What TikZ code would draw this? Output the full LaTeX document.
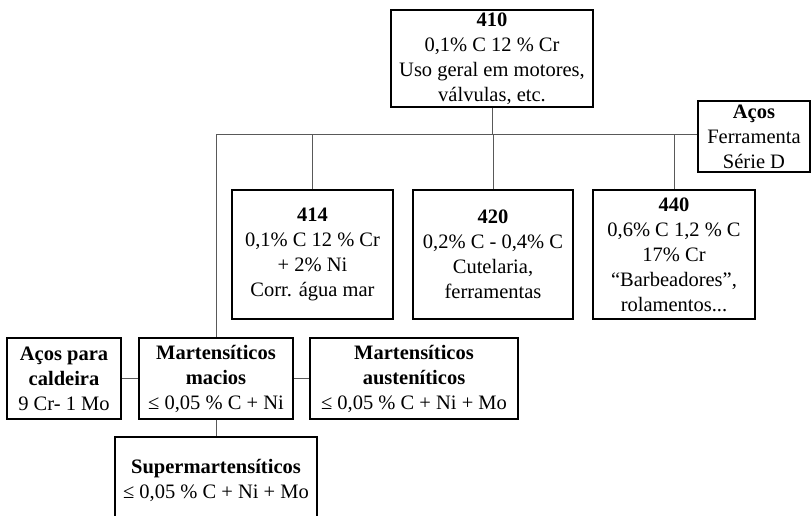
\documentclass[tikz,border=0pt]{standalone}
\usepackage{fontspec}
\setmainfont{Liberation Serif}
\begin{document}
\begin{tikzpicture}[x=1pt,y=-1pt,
  box/.style={draw=black, line width=1.8pt, rectangle, inner sep=0pt, align=center,
              font=\fontsize{20.5}{25}\selectfont},
  conn/.style={draw=black!65, line width=1pt}]
\useasboundingbox (0,0) rectangle (812,516);
\node[box, minimum width=202pt, minimum height=97pt] (n410) at (492,58.5)
  {\textbf{410}\\0,1\% C 12 \% Cr\\Uso geral em motores,\\válvulas, etc.};
\node[box, minimum width=112pt, minimum height=71pt] (aco) at (754,136.5)
  {\textbf{Aços}\\Ferramenta\\Série D};
\node[box, minimum width=161pt, minimum height=129pt] (n414) at (312.5,254.5)
  {\textbf{414}\\0,1\% C 12 \% Cr\\+ 2\% Ni\\Corr. água mar};
\node[box, minimum width=160pt, minimum height=129pt] (n420) at (493,254.5)
  {\textbf{420}\\0,2\% C - 0,4\% C\\Cutelaria,\\ferramentas};
\node[box, minimum width=162pt, minimum height=129pt] (n440) at (674,254.5)
  {\textbf{440}\\0,6\% C 1,2 \% C\\17\% Cr\\“Barbeadores”,\\rolamentos...};
\node[box, minimum width=114pt, minimum height=81pt] (cald) at (64,378.5)
  {\textbf{Aços para}\\\textbf{caldeira}\\9 Cr- 1 Mo};
\node[box, minimum width=154pt, minimum height=81pt] (macios) at (216,378.5)
  {\textbf{Martensíticos}\\\textbf{macios}\\≤ 0,05 \% C + Ni};
\node[box, minimum width=208pt, minimum height=81pt] (aust) at (414,378.5)
  {\textbf{Martensíticos}\\\textbf{austeníticos}\\≤ 0,05 \% C + Ni + Mo};
\node[box, minimum width=202pt, minimum height=87pt] (super) at (216,480.5)
  {\textbf{Supermartensíticos}\\≤ 0,05 \% C + Ni + Mo};
\coordinate (bus) at (216,135);
\draw[conn] (bus) -- (aco.west |- bus);
\draw[conn] (n410.south) -- (n410.south |- bus);
\draw[conn] (n414.north) -- (n414.north |- bus);
\draw[conn] (n420.north) -- (n420.north |- bus);
\draw[conn] (n440.north) -- (n440.north |- bus);
\draw[conn] (bus) -- (macios.north);
\draw[conn] (macios.south) -- (super.north);
\draw[conn] (cald.east) -- (macios.west);
\draw[conn] (macios.east) -- (aust.west);
\end{tikzpicture}
\end{document}
